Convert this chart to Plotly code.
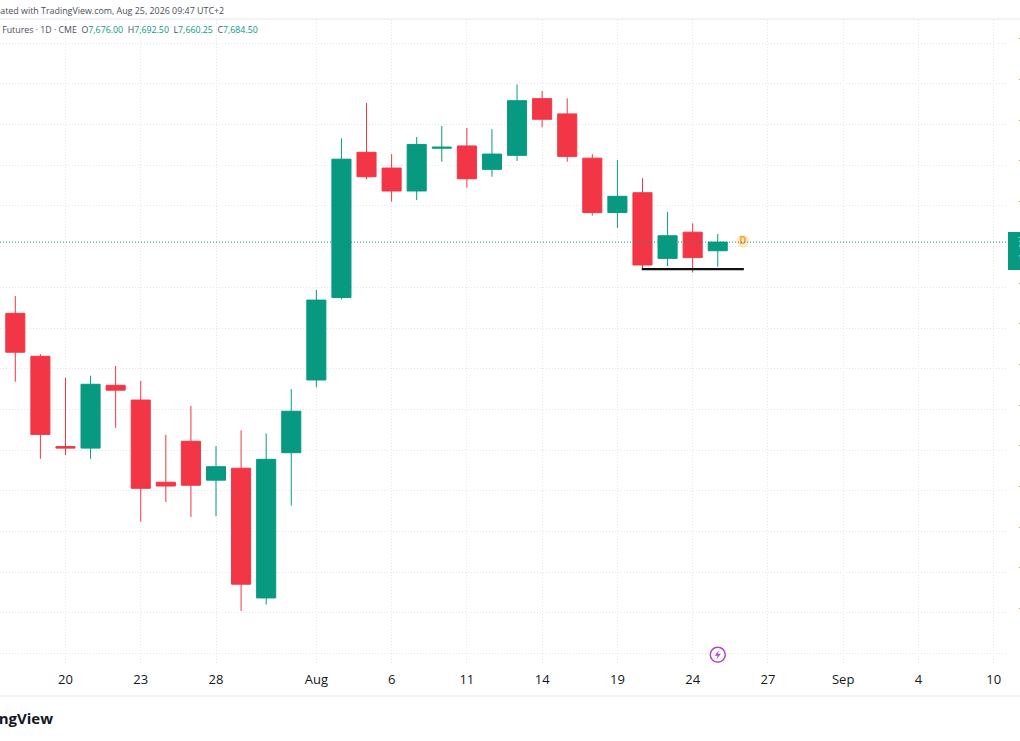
import plotly.graph_objects as go

# daily bars
open_ = [7614.5, 7572.25, 7483.5, 7482, 7543.75, 7529.25, 7448.5, 7488.75, 7450.5, 7462.25,
         7334.75, 7477.5, 7549, 7630, 7772.75, 7757.25, 7734.75, 7776.75, 7779, 7756,
         7769.75, 7825.5, 7810.5, 7767, 7713.5, 7733, 7668.5, 7694.25, 7676]
high = [7631.5, 7574.5, 7551, 7553.25, 7562.75, 7548, 7495, 7523.5, 7484, 7499.5,
        7496.5, 7540, 7637.5, 7786.5, 7821.25, 7771, 7787.75, 7798.5, 7796.75, 7795.5,
        7839.5, 7833, 7825.75, 7771, 7765.25, 7747.25, 7714, 7703, 7692.5]
low = [7547.25, 7471.5, 7475.25, 7471.5, 7502, 7409.75, 7429, 7414.25, 7415, 7322,
       7328.25, 7425.5, 7541.75, 7628.25, 7746.25, 7724.25, 7725.75, 7763.5, 7738, 7748.75,
       7764.25, 7797.25, 7763.5, 7710.5, 7698.5, 7657, 7661, 7654.75, 7660.25]
close = [7576.25, 7495.5, 7482, 7544.75, 7539, 7442.5, 7444.75, 7445.5, 7463.75, 7348.25,
         7471, 7518.25, 7627.5, 7766, 7748.75, 7734.75, 7780.5, 7777.75, 7746.75, 7771,
         7823.5, 7805.25, 7768.75, 7713.5, 7729.5, 7662, 7690.75, 7669.25, 7684.5]
bars = list(range(len(open_)))

x_tickvals = [2, 5, 8, 12, 15, 18, 21, 24, 27, 30, 33, 36, 39]
x_ticktext = ['20', '23', '28', 'Aug', '6', '11', '14', '19', '24', '27', 'Sep', '4', '10']
y_tickvals = [7280, 7320, 7360, 7400, 7440, 7480, 7520, 7560, 7600, 7640, 7680, 7720, 7760, 7800, 7840, 7880]
y_ticktext = ['' if v in (7280, 7680) else f'{v:,.2f}' for v in y_tickvals]

support_x = [24.97, 29.04]
support_y = [7658, 7658]
dividend_x = [29]
dividend_y = [7685.5]
event_x = [28]
event_y = [7279]

GREEN = '#089981'
RED = '#f23645'
GRID = '#e4e6ec'
TEXT = '#131722'
FONT = 'Open Sans'
W, H = 1020, 741
PLOT_R, PLOT_T, PLOT_B = 1006, 20, 663

fig = go.Figure()
fig.add_trace(go.Candlestick(
    x=bars, open=open_, high=high, low=low, close=close,
    increasing=dict(line=dict(color=GREEN, width=1), fillcolor=GREEN),
    decreasing=dict(line=dict(color=RED, width=1), fillcolor=RED),
    whiskerwidth=0,
))
fig.add_trace(go.Scatter(x=support_x, y=support_y, mode='lines',
                         line=dict(color='#111111', width=2.2)))
fig.add_trace(go.Scatter(x=dividend_x, y=dividend_y, mode='markers+text', text=['<b>D</b>'],
                         textposition='middle center',
                         textfont=dict(color='#f5a030', size=10, family=FONT),
                         marker=dict(color='rgba(255,152,0,0.2)', size=13)))
fig.add_trace(go.Scatter(x=event_x, y=event_y, mode='markers',
                         marker=dict(symbol='circle-open', color='#b545cc', size=15,
                                     line=dict(width=1.5))))


def px(x):
    return x / PLOT_R


def py(y):
    return (PLOT_B - y) / (PLOT_B - PLOT_T)


ohlc = [('O', open_[-1]), ('H', high[-1]), ('L', low[-1]), ('C', close[-1])]
legend = 'E-mini S&P 500 Futures · 1D · CME  ' + '  '.join(
    f"{k}<span style='color:{GREEN}'>{v:,.2f}</span>" for k, v in ohlc)

notes = [
    dict(x=px(225), y=py(10.5), xanchor='right', text='Created with TradingView.com, Aug 25, 2026 09:47 UTC+2',
         font=dict(size=8.9, color='#4a4e59', family=FONT)),
    dict(x=px(259), y=py(30.5), xanchor='right', text=legend,
         font=dict(size=8.8, color='#4a4e59', family=FONT)),
    dict(x=px(54), y=py(718), xanchor='right', text='<b>TradingView</b>',
         font=dict(size=15, color=TEXT, family=FONT)),
    dict(x=px(1017), y=py(238), xanchor='left', text=f'{close[-1]:,.2f}',
         font=dict(size=8, color='white', family=FONT)),
    dict(x=px(1017), y=py(247), xanchor='left', text='14:12:38',
         font=dict(size=8, color='white', family=FONT)),
    dict(x=px(1017), y=py(256), xanchor='left', text='1D',
         font=dict(size=8, color='white', family=FONT)),
]
for n in notes:
    n.update(xref='paper', yref='paper', showarrow=False, yanchor='middle', borderpad=0)

fig.update_layout(
    width=W, height=H,
    margin=dict(l=0, r=W - PLOT_R, t=PLOT_T, b=H - PLOT_B, pad=0, autoexpand=False),
    paper_bgcolor='white', plot_bgcolor='white',
    showlegend=False, boxgap=0.24, boxgroupgap=0,
    annotations=notes,
    font=dict(family=FONT, color=TEXT),
    shapes=[
        # last price line
        dict(type='line', xref='paper', yref='y', x0=0, x1=1, y0=close[-1], y1=close[-1],
             line=dict(color=GREEN, width=1, dash='1px,2px'), layer='above'),
        # last price box on the axis
        dict(type='rect', xref='paper', yref='paper', x0=px(1008), x1=px(1024), y0=py(232), y1=py(270),
             fillcolor=GREEN, line=dict(width=0), layer='below'),
        # top and bottom strips
        dict(type='line', xref='paper', yref='paper', x0=0, x1=px(W), y0=py(19), y1=py(19),
             line=dict(color='#f0f1f4', width=1.5)),
        dict(type='line', xref='paper', yref='paper', x0=0, x1=px(W), y0=py(696), y1=py(696),
             line=dict(color='#f0f1f4', width=1.5)),
        # bolt inside the event badge
        dict(type='path', xref='x', yref='y', xsizemode='pixel', ysizemode='pixel',
             xanchor=event_x[0], yanchor=event_y[0],
             path='M 1.5 5 L -3 -1 L 0 -1 L -1.5 -5 L 3 1 L 0 1 Z',
             fillcolor='#b545cc', line=dict(width=0), layer='above'),
    ],
)
fig.update_xaxes(
    range=[-0.61, 39.49], rangeslider_visible=False, automargin=False,
    tickmode='array', tickvals=x_tickvals, ticktext=x_ticktext,
    showgrid=True, gridcolor=GRID, griddash='1px,2px', gridwidth=1,
    zeroline=False, showline=False, ticks='', ticklabelstandoff=7,
    tickfont=dict(size=13, color=TEXT, family=FONT),
)
fig.update_yaxes(
    range=[7270.8, 7902.8], side='right', automargin=False,
    tickmode='array', tickvals=y_tickvals, ticktext=y_ticktext,
    showgrid=True, gridcolor=GRID, griddash='1px,2px', gridwidth=1,
    zeroline=False, showline=False, ticks='', ticklabelstandoff=12,
    tickfont=dict(size=12, color=TEXT, family=FONT),
)
fig.write_html('out.html', config=dict(displayModeBar=False),
               post_script="document.body.style.margin='0';")
